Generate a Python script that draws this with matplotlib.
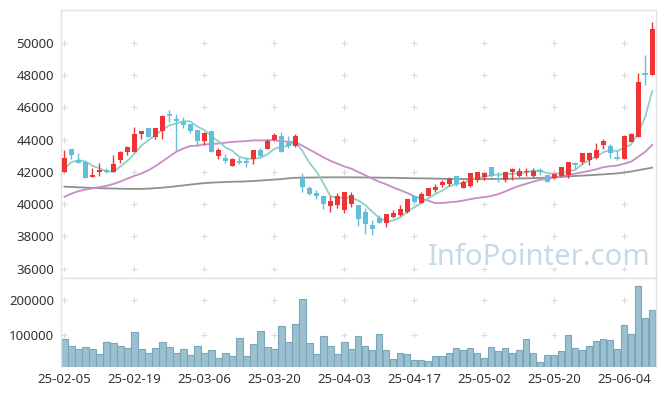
import numpy as np
import matplotlib
matplotlib.use("Agg")
import matplotlib.pyplot as plt

plt.rcParams['font.family'] = ['Noto Sans', 'DejaVu Sans']

dates = ['25-02-05','25-02-06','25-02-07','25-02-10','25-02-11','25-02-12','25-02-13','25-02-14','25-02-17','25-02-18',
         '25-02-19','25-02-20','25-02-21','25-02-24','25-02-25','25-02-26','25-02-27','25-02-28','25-03-04','25-03-05',
         '25-03-06','25-03-07','25-03-10','25-03-11','25-03-12','25-03-13','25-03-14','25-03-17','25-03-18','25-03-19',
         '25-03-20','25-03-21','25-03-24','25-03-25','25-03-26','25-03-27','25-03-28','25-03-31','25-04-01','25-04-02',
         '25-04-03','25-04-04','25-04-07','25-04-08','25-04-09','25-04-10','25-04-11','25-04-14','25-04-15','25-04-16',
         '25-04-17','25-04-18','25-04-21','25-04-22','25-04-23','25-04-24','25-04-25','25-04-28','25-04-29','25-04-30',
         '25-05-02','25-05-07','25-05-08','25-05-09','25-05-12','25-05-13','25-05-14','25-05-15','25-05-16','25-05-19',
         '25-05-20','25-05-21','25-05-22','25-05-23','25-05-26','25-05-27','25-05-28','25-05-29','25-05-30','25-06-02',
         '25-06-04','25-06-05','25-06-09','25-06-10','25-06-11']

opens = [42010, 43410, 42710, 42590, 41700, 42010, 42100, 42010, 42730, 43210,
         43210, 44320, 44740, 44180, 44530, 45550, 45300, 45110, 44960, 44590,
         43910, 44520, 43000, 42880, 42380, 42650, 42650, 42770, 43350, 43390,
         43970, 44220, 43770, 43630, 41600, 40990, 40710, 40480, 39900, 39945,
         39660, 40030, 39960, 39510, 38700, 39120, 38850, 39180, 39330, 39490,
         40500, 40090, 40520, 40880, 41190, 41230, 41760, 41020, 41140, 41470,
         41700, 42320, 41600, 41490, 42010, 41760, 41970, 41760, 42070, 41800,
         41640, 41760, 41800, 42530, 42630, 42730, 42880, 43660, 43620, 42880,
         42800, 43870, 44180, 48100, 48000]
highs = [43350, 43410, 43150, 42650, 42260, 42570, 42260, 43040, 43300, 43600,
         44800, 44560, 44740, 44720, 45520, 45830, 45600, 45420, 44960, 44600,
         44450, 44520, 43460, 43090, 42880, 42940, 42940, 43350, 43460, 44010,
         44430, 44490, 44220, 44340, 41920, 41120, 40875, 40480, 40500, 40710,
         40760, 40740, 39960, 39740, 39010, 39320, 39390, 39640, 39950, 40300,
         40500, 40770, 41000, 41230, 41490, 41700, 41760, 41490, 41950, 42010,
         41950, 42320, 42010, 42010, 42220, 42220, 42220, 42220, 42220, 41800,
         41950, 42320, 42630, 42630, 43150, 43250, 43770, 44010, 43730, 43350,
         44280, 44390, 48100, 49240, 51260]
lows = [42010, 42770, 42530, 41640, 41700, 41740, 41950, 42010, 42530, 43040,
        43210, 44010, 44180, 44010, 44010, 45100, 43350, 44700, 44390, 43600,
        43660, 43230, 42800, 42530, 42380, 42490, 42280, 42490, 42940, 43390,
        43970, 43250, 43460, 43560, 40740, 40570, 40290, 39680, 39530, 39740,
        39430, 39800, 38620, 38120, 38090, 38800, 38600, 39120, 39260, 39430,
        40050, 40050, 40480, 40770, 41080, 41140, 41130, 40980, 41080, 41390,
        41490, 41700, 41390, 41390, 41490, 41700, 41740, 41700, 41800, 41350,
        41560, 41700, 41600, 42160, 42490, 42420, 42780, 43390, 42840, 42730,
        42800, 43870, 44180, 47380, 48000]
closes = [42840, 43040, 42530, 41640, 41800, 42110, 42030, 42460, 43250, 43560,
          44320, 44530, 44180, 44700, 45480, 45500, 45150, 44900, 44550, 43910,
          44430, 43230, 43350, 42690, 42800, 42600, 42600, 43350, 42980, 43910,
          44280, 43250, 43630, 44220, 41080, 40650, 40520, 40010, 40200, 40503,
          40760, 40565, 39080, 38770, 38450, 38850, 39390, 39470, 39700, 40300,
          40150, 40630, 40980, 41080, 41340, 41556, 41230, 41390, 41910, 42010,
          41910, 41760, 41550, 42010, 42160, 42070, 42050, 42070, 42010, 41390,
          41870, 42280, 42590, 42500, 43150, 43150, 43350, 43910, 43190, 42830,
          44220, 44320, 47590, 48050, 50850]
volumes = [90000, 70000, 59000, 65000, 59000, 45000, 79000, 76000, 70000, 62000,
           108000, 59000, 48000, 62000, 79000, 65000, 48000, 59000, 42000, 68000,
           50000, 56000, 33000, 48000, 39000, 93000, 39000, 73000, 113000, 65000,
           59000, 125000, 79000, 133000, 202000, 76000, 45000, 96000, 68000, 45000,
           79000, 59000, 96000, 68000, 56000, 102000, 56000, 30000, 50000, 45000,
           28000, 28000, 25000, 39000, 39000, 50000, 62000, 56000, 62000, 48000,
           33000, 65000, 53000, 62000, 48000, 56000, 88000, 50000, 22000, 42000,
           42000, 53000, 99000, 62000, 56000, 70000, 82000, 88000, 85000, 59000,
           128000, 102000, 240000, 148000, 173000]

# moving-average values for the first bars (earlier history not shown)
ma5_head = [42200, 42600, 42720, 42650]
ma20_head = [40450, 40650, 40800, 40900, 40975, 41050, 41130, 41250, 41400, 41580,
             41750, 41900, 42100, 42350, 42650, 42950, 43250, 43450, 43600]
# long moving average (gray line)
ma_long = [41080, 41060, 41040, 41020, 41000, 40985, 40975, 40965, 40955, 40945,
           40940, 40945, 40960, 40990, 41020, 41060, 41110, 41160, 41210, 41260,
           41300, 41330, 41350, 41370, 41385, 41395, 41410, 41430, 41460, 41490,
           41520, 41550, 41600, 41630, 41640, 41645, 41650, 41655, 41660, 41660,
           41660, 41660, 41655, 41650, 41645, 41640, 41635, 41630, 41620, 41610,
           41600, 41595, 41590, 41580, 41570, 41565, 41560, 41557, 41555, 41555,
           41555, 41557, 41560, 41565, 41575, 41585, 41595, 41610, 41625, 41640,
           41660, 41690, 41715, 41740, 41765, 41790, 41815, 41845, 41875, 41905,
           41960, 42020, 42100, 42180, 42260]

price_ticks = [36000, 38000, 40000, 42000, 44000, 46000, 48000, 50000]
vol_ticks = [100000, 200000]


def moving_avg(vals, n, head):
    vals = np.asarray(vals, float)
    out = list(head)
    for i in range(len(head), len(vals)):
        out.append(vals[i - n + 1:i + 1].mean())
    return np.array(out)


n = len(dates)
x = np.arange(n)
o = np.array(opens, float)
h = np.array(highs, float)
l = np.array(lows, float)
c = np.array(closes, float)

ma5 = moving_avg(c, 5, ma5_head)
ma20 = moving_avg(c, 20, ma20_head)

RED = '#EE3434'
BLUE = '#63BED8'

fig = plt.figure(figsize=(6.65, 3.96), dpi=100)
ax = fig.add_axes([61 / 665, 1 - 278 / 396, 594.7 / 665, 268 / 396])
axv = fig.add_axes([61 / 665, 1 - 367 / 396, 594.7 / 665, 89 / 396])

up = c >= o
cols = np.where(up, RED, BLUE)

# grid '+' marks
xt = list(range(0, n, 10))
for t in xt:
    ax.scatter([t] * len(price_ticks), price_ticks, marker='+', s=18, color='#dcdcdc', lw=0.8, zorder=0)
    axv.scatter([t] * len(vol_ticks), vol_ticks, marker='+', s=18, color='#dcdcdc', lw=0.8, zorder=0)

ax.plot(x, ma_long, color='#8f8f8f', lw=1.3, zorder=2)
ax.plot(x, ma20, color='#C98BC6', lw=1.3, zorder=2)
ax.plot(x, ma5, color='#8FD0C6', lw=1.3, zorder=2)

ax.vlines(x, l, h, colors=cols, lw=1.0, zorder=3)
body_bot = np.minimum(o, c)
body_h = np.abs(c - o)
ax.bar(x, body_h, bottom=body_bot, width=0.72, color=cols, lw=0, zorder=4)
doji = body_h < 80
ax.hlines((o + c)[doji] / 2, x[doji] - 0.4, x[doji] + 0.4, colors=cols[doji], lw=1.2, zorder=4)

ax.text(0.805, 0.078, 'InfoPointer.com', transform=ax.transAxes, ha='center', va='center',
        fontsize=21, color='#C6DAE5', zorder=1)

ax.set_xlim(-0.5, n - 0.5)
ax.set_ylim(35420, 52030)
ax.set_yticks(price_ticks)
ax.set_yticklabels([str(v) for v in price_ticks])
ax.set_xticks([])

axv.bar(x, volumes, width=0.9, color='#9BC0D0', edgecolor='#7BA6B9', lw=0.8, zorder=2)
axv.set_xlim(-0.5, n - 0.5)
axv.set_ylim(8500, 263500)
axv.set_yticks(vol_ticks)
axv.set_yticklabels([str(v) for v in vol_ticks])
axv.set_xticks(xt)
axv.set_xticklabels([dates[i] for i in xt])

for a in (ax, axv):
    a.tick_params(length=0, labelsize=9.5, colors='#333333', pad=5)
    for s in a.spines.values():
        s.set_color('#e2e2e2')
        s.set_linewidth(1.0)
    a.set_facecolor('white')
axv.spines['bottom'].set_visible(False)
axv.tick_params(axis='x', pad=4)

fig.savefig('out.png', dpi=100, facecolor='white')
